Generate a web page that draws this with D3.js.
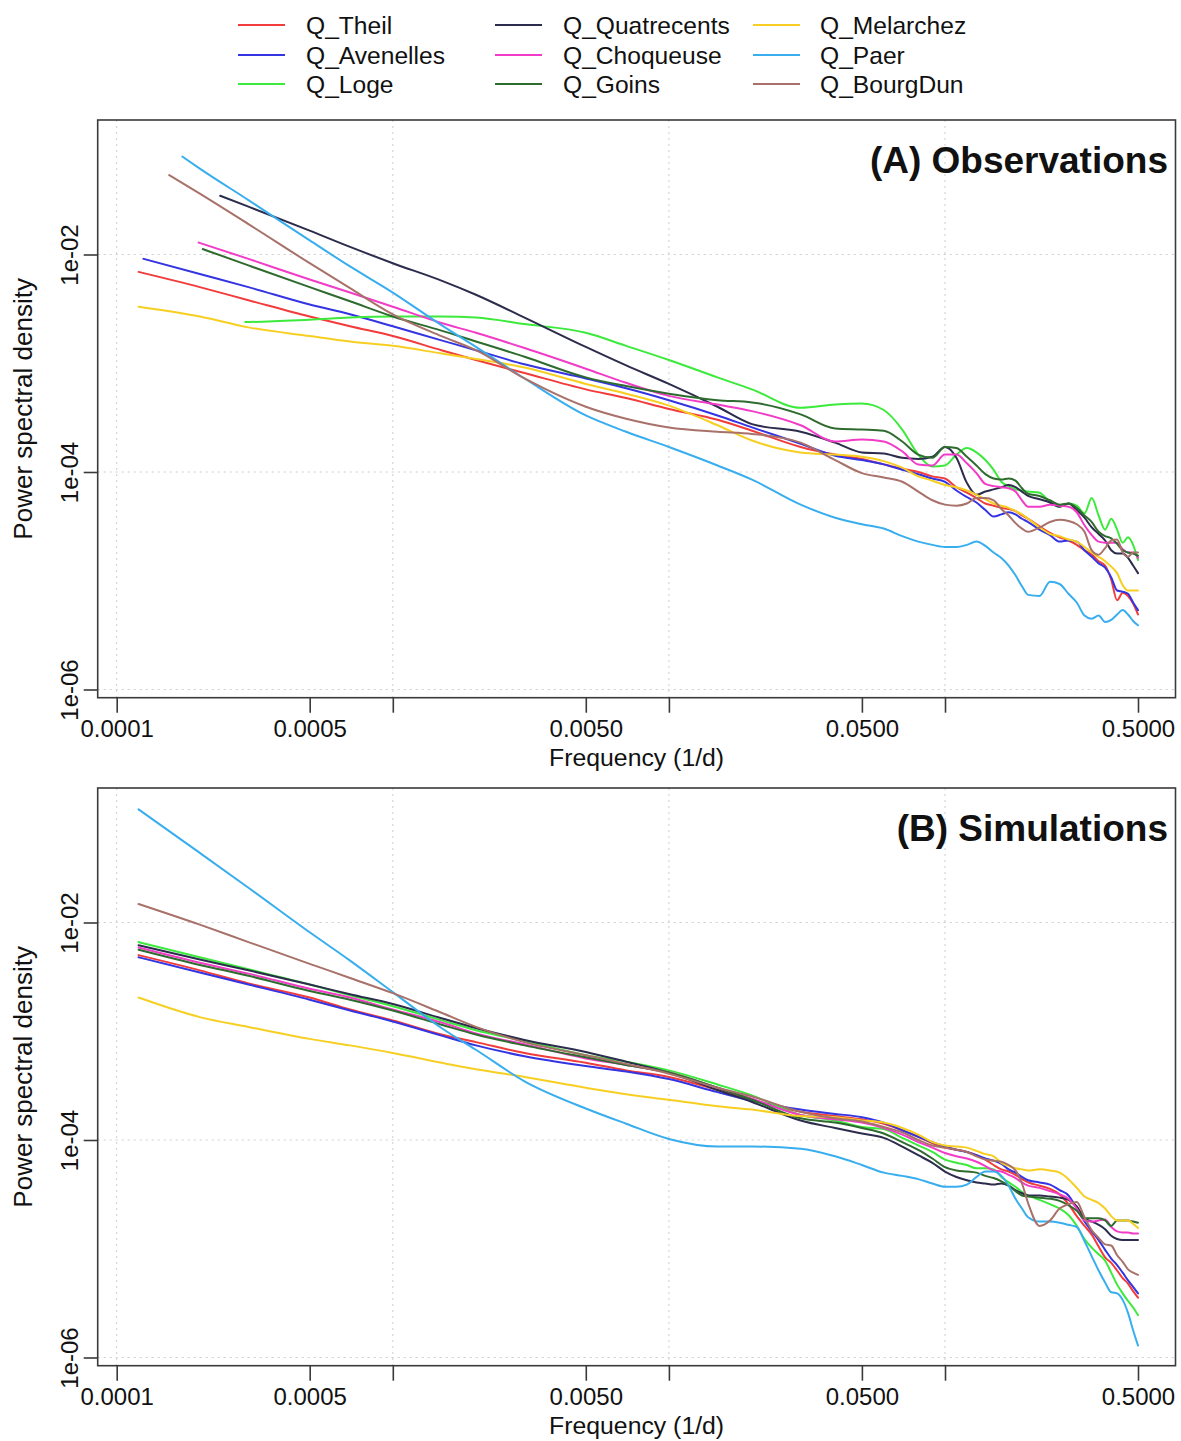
<!DOCTYPE html>
<html><head><meta charset="utf-8">
<script src="https://cdn.jsdelivr.net/npm/d3@7"></script>
<style>
body{margin:0;background:#fff}
svg{display:block}
text{font-family:"Liberation Sans",Arial,Helvetica,sans-serif;fill:#111}
</style>
</head><body>
<svg id="chart" width="1181" height="1441"></svg>
<script>
// ---------------- DATA ----------------
const seriesNames = ["Q_Theil","Q_Avenelles","Q_Loge","Q_Quatrecents","Q_Choqueuse","Q_Goins","Q_Melarchez","Q_Paer","Q_BourgDun"];
const seriesColors = ["#F23B3B","#3434E2","#3CEA3C","#2C2C4C","#F23CC8","#2E6B2E","#F7CF22","#38AEEE","#A8716A"];

// common frequency grid (1/d)
const freqGrid = [0.00012,0.0002,0.0003,0.0005,0.0007,0.001,0.0015,0.002,0.003,0.005,0.007,0.01,0.015,0.02,0.03,0.04,0.05,0.06,0.07,0.08,0.09,0.1,0.11,0.12,0.13,0.14,0.15,0.16,0.17,0.18,0.19,0.2,0.22,0.24,0.26,0.28,0.30,0.32,0.34,0.36,0.38,0.40,0.42,0.44,0.46,0.48,0.50];

// (A) observations: first point of each record, then log10(PSD) on freqGrid (null = outside record)
const obsStartFreq   = [0.00012,0.000125,0.000292,0.000237,0.000198,0.000205,0.00012,0.000173,0.000155];
const obsStartLog10  = [-2.16,-2.04,-2.62,-1.46,-1.89,-1.95,-2.48,-1.10,-1.27];

const obsTheil = [null,-2.30,-2.42,-2.57,-2.66,-2.75,-2.88,-2.97,-3.09,-3.24,-3.32,-3.42,-3.52,-3.62,-3.77,-3.84,-3.88,-3.93,-3.97,-4.00,-4.04,-4.06,-4.14,-4.19,-4.24,-4.29,-4.31,-4.33,-4.34,-4.36,-4.40,-4.43,-4.50,-4.56,-4.60,-4.63,-4.67,-4.72,-4.76,-4.82,-4.86,-4.99,-5.18,-5.11,-5.14,-5.21,-5.31];
const obsAvenelles = [null,-2.18,-2.30,-2.46,-2.55,-2.66,-2.79,-2.88,-3.01,-3.14,-3.23,-3.34,-3.48,-3.59,-3.74,-3.85,-3.89,-3.93,-3.98,-4.02,-4.06,-4.09,-4.17,-4.23,-4.28,-4.35,-4.41,-4.39,-4.37,-4.39,-4.43,-4.46,-4.53,-4.58,-4.64,-4.63,-4.64,-4.72,-4.78,-4.84,-4.88,-4.97,-5.09,-5.10,-5.12,-5.20,-5.27];
const obsLoge = [null,null,-2.62,-2.60,-2.58,-2.57,-2.57,-2.58,-2.64,-2.72,-2.84,-2.97,-3.13,-3.24,-3.41,-3.38,-3.37,-3.43,-3.61,-3.84,-3.95,-3.94,-3.84,-3.78,-3.82,-3.89,-3.98,-4.09,-4.13,-4.16,-4.17,-4.18,-4.19,-4.28,-4.32,-4.29,-4.31,-4.38,-4.24,-4.40,-4.53,-4.43,-4.53,-4.65,-4.60,-4.67,-4.81];
const obsQuatrecents = [null,null,-1.56,-1.78,-1.93,-2.08,-2.24,-2.37,-2.58,-2.85,-3.02,-3.19,-3.40,-3.56,-3.63,-3.73,-3.82,-3.83,-3.87,-3.88,-3.86,-3.77,-3.87,-4.10,-4.21,-4.18,-4.16,-4.14,-4.12,-4.14,-4.18,-4.22,-4.25,-4.28,-4.32,-4.29,-4.35,-4.42,-4.51,-4.57,-4.63,-4.72,-4.75,-4.75,-4.79,-4.86,-4.93];
const obsChoqueuse = [null,null,-2.04,-2.23,-2.35,-2.48,-2.63,-2.72,-2.86,-3.05,-3.18,-3.30,-3.38,-3.44,-3.57,-3.72,-3.70,-3.72,-3.81,-3.93,-3.94,-3.84,-3.84,-3.92,-4.01,-4.11,-4.13,-4.14,-4.15,-4.18,-4.26,-4.32,-4.32,-4.30,-4.31,-4.32,-4.37,-4.49,-4.58,-4.64,-4.65,-4.65,-4.65,-4.71,-4.74,-4.74,-4.79];
const obsGoins = [null,null,-2.10,-2.30,-2.43,-2.57,-2.70,-2.80,-2.94,-3.13,-3.21,-3.28,-3.34,-3.36,-3.47,-3.60,-3.61,-3.62,-3.72,-3.84,-3.87,-3.77,-3.78,-3.86,-3.94,-4.02,-4.06,-4.07,-4.06,-4.08,-4.15,-4.20,-4.22,-4.26,-4.30,-4.29,-4.33,-4.40,-4.46,-4.55,-4.59,-4.61,-4.66,-4.72,-4.74,-4.75,-4.77];
const obsMelarchez = [null,-2.57,-2.67,-2.75,-2.80,-2.84,-2.91,-2.96,-3.04,-3.19,-3.28,-3.39,-3.57,-3.71,-3.82,-3.84,-3.86,-3.90,-3.96,-4.04,-4.08,-4.12,-4.14,-4.17,-4.21,-4.25,-4.29,-4.31,-4.33,-4.36,-4.39,-4.43,-4.51,-4.57,-4.59,-4.62,-4.64,-4.69,-4.74,-4.78,-4.82,-4.87,-4.93,-5.04,-5.09,-5.09,-5.09];
const obsPaer = [null,-1.21,-1.50,-1.87,-2.11,-2.35,-2.65,-2.85,-3.14,-3.48,-3.63,-3.77,-3.94,-4.07,-4.30,-4.42,-4.48,-4.52,-4.59,-4.64,-4.67,-4.69,-4.69,-4.67,-4.64,-4.68,-4.74,-4.79,-4.86,-4.95,-5.05,-5.13,-5.14,-5.01,-5.03,-5.12,-5.20,-5.32,-5.35,-5.32,-5.38,-5.36,-5.31,-5.27,-5.31,-5.37,-5.41];
const obsBourgDun = [null,-1.44,-1.72,-2.08,-2.31,-2.55,-2.75,-2.88,-3.14,-3.40,-3.51,-3.59,-3.63,-3.65,-3.73,-3.89,-4.01,-4.05,-4.09,-4.18,-4.26,-4.30,-4.31,-4.29,-4.24,-4.24,-4.26,-4.34,-4.40,-4.47,-4.52,-4.55,-4.51,-4.46,-4.44,-4.45,-4.48,-4.55,-4.72,-4.76,-4.70,-4.63,-4.62,-4.74,-4.78,-4.74,-4.74];

// (B) simulations: log10(PSD) on freqGrid
const simTheil = [-2.30,-2.44,-2.56,-2.69,-2.80,-2.90,-3.03,-3.10,-3.20,-3.29,-3.36,-3.42,-3.54,-3.63,-3.74,-3.78,-3.81,-3.85,-3.91,-3.97,-4.03,-4.07,-4.09,-4.11,-4.14,-4.18,-4.23,-4.27,-4.29,-4.32,-4.36,-4.39,-4.42,-4.45,-4.50,-4.59,-4.70,-4.79,-4.87,-4.98,-5.08,-5.13,-5.20,-5.27,-5.32,-5.39,-5.45];
const simAvenelles = [-2.32,-2.46,-2.57,-2.71,-2.81,-2.91,-3.04,-3.13,-3.23,-3.32,-3.37,-3.44,-3.56,-3.64,-3.72,-3.76,-3.79,-3.84,-3.91,-3.97,-4.02,-4.06,-4.09,-4.11,-4.14,-4.17,-4.19,-4.22,-4.27,-4.30,-4.34,-4.37,-4.39,-4.41,-4.46,-4.51,-4.63,-4.75,-4.84,-4.92,-5.01,-5.09,-5.15,-5.22,-5.29,-5.35,-5.41];
const simLoge = [-2.18,-2.32,-2.43,-2.57,-2.67,-2.77,-2.90,-2.99,-3.09,-3.22,-3.28,-3.36,-3.49,-3.59,-3.77,-3.82,-3.88,-3.90,-3.98,-4.05,-4.11,-4.18,-4.21,-4.23,-4.26,-4.26,-4.27,-4.34,-4.39,-4.43,-4.48,-4.51,-4.55,-4.59,-4.63,-4.69,-4.79,-4.91,-4.99,-5.05,-5.11,-5.22,-5.33,-5.41,-5.48,-5.54,-5.61];
const simQuatrecents = [-2.21,-2.34,-2.44,-2.57,-2.66,-2.75,-2.88,-2.97,-3.08,-3.19,-3.28,-3.38,-3.54,-3.65,-3.82,-3.89,-3.94,-3.98,-4.06,-4.14,-4.21,-4.29,-4.34,-4.37,-4.39,-4.40,-4.41,-4.40,-4.42,-4.46,-4.49,-4.51,-4.51,-4.52,-4.53,-4.55,-4.61,-4.72,-4.75,-4.78,-4.82,-4.88,-4.91,-4.92,-4.92,-4.92,-4.92];
const simChoqueuse = [-2.23,-2.37,-2.47,-2.61,-2.69,-2.80,-2.92,-3.02,-3.12,-3.25,-3.31,-3.38,-3.52,-3.62,-3.77,-3.81,-3.84,-3.89,-3.95,-4.02,-4.07,-4.12,-4.15,-4.17,-4.20,-4.24,-4.28,-4.29,-4.32,-4.35,-4.39,-4.42,-4.44,-4.47,-4.50,-4.54,-4.63,-4.74,-4.75,-4.74,-4.73,-4.80,-4.84,-4.85,-4.85,-4.86,-4.86];
const simGoins = [-2.25,-2.39,-2.49,-2.63,-2.71,-2.81,-2.94,-3.03,-3.13,-3.24,-3.31,-3.38,-3.52,-3.63,-3.80,-3.84,-3.89,-3.94,-4.02,-4.09,-4.17,-4.25,-4.28,-4.29,-4.30,-4.33,-4.35,-4.38,-4.42,-4.47,-4.51,-4.52,-4.53,-4.54,-4.56,-4.60,-4.65,-4.72,-4.72,-4.72,-4.74,-4.79,-4.74,-4.74,-4.74,-4.75,-4.76];
const simMelarchez = [-2.69,-2.87,-2.96,-3.07,-3.13,-3.20,-3.29,-3.35,-3.42,-3.52,-3.58,-3.63,-3.69,-3.72,-3.78,-3.79,-3.82,-3.84,-3.89,-3.95,-4.02,-4.05,-4.06,-4.07,-4.10,-4.13,-4.15,-4.21,-4.24,-4.26,-4.27,-4.28,-4.27,-4.28,-4.30,-4.36,-4.44,-4.52,-4.55,-4.58,-4.63,-4.70,-4.74,-4.74,-4.74,-4.77,-4.81];
const simPaer = [-0.96,-1.36,-1.68,-2.09,-2.35,-2.64,-2.97,-3.17,-3.46,-3.71,-3.85,-3.99,-4.06,-4.06,-4.08,-4.15,-4.23,-4.30,-4.33,-4.36,-4.40,-4.43,-4.43,-4.41,-4.34,-4.29,-4.29,-4.33,-4.42,-4.54,-4.63,-4.71,-4.75,-4.75,-4.76,-4.78,-4.80,-4.93,-5.07,-5.20,-5.31,-5.40,-5.41,-5.47,-5.59,-5.75,-5.89];
const simBourgDun = [-1.83,-2.02,-2.18,-2.38,-2.51,-2.65,-2.83,-2.96,-3.10,-3.22,-3.30,-3.39,-3.52,-3.60,-3.74,-3.80,-3.83,-3.88,-3.93,-4.00,-4.05,-4.07,-4.09,-4.11,-4.15,-4.18,-4.19,-4.20,-4.23,-4.28,-4.40,-4.58,-4.79,-4.74,-4.63,-4.59,-4.57,-4.71,-4.83,-4.90,-4.96,-4.97,-5.06,-5.12,-5.19,-5.22,-5.24];

const xTickValues = [0.0001,0.0005,0.001,0.005,0.01,0.05,0.1,0.5];
const xTickLabels = ["0.0001","0.0005","","0.0050","","0.0500","","0.5000"];
const yTickValues = [1e-6,1e-4,1e-2];
const yTickLabels = ["1e-06","1e-04","1e-02"];
const xGridValues = [0.0001,0.001,0.01,0.1];
const yGridValues = [1e-6,1e-4,1e-2];

const obsSeries = [obsTheil,obsAvenelles,obsLoge,obsQuatrecents,obsChoqueuse,obsGoins,obsMelarchez,obsPaer,obsBourgDun];
const simSeries = [simTheil,simAvenelles,simLoge,simQuatrecents,simChoqueuse,simGoins,simMelarchez,simPaer,simBourgDun];

// ---------------- LAYOUT ----------------
const svg = d3.select("#chart");
const boxLeft = 97.7, boxRight = 1175.5;
const x = d3.scaleLog().domain([1e-4, 0.5]).range([116.7, 1138]);
const decadePx = 108.75;
const FONT = '"Liberation Sans", Arial, sans-serif';

const panels = [
  {title:"(A) Observations", mid:472, top:120, bottom:697.7, obs:true},
  {title:"(B) Simulations",  mid:1140, top:788, bottom:1365.7, obs:false}
];

panels.forEach((p, pi) => {
  const y = d3.scaleLog().domain([1e-6, 1e-2]).range([p.mid + 2*decadePx, p.mid - 2*decadePx]);
  const g = svg.append("g");

  // grid
  g.selectAll(".gx").data(xGridValues).join("line")
    .attr("x1", d => x(d)).attr("x2", d => x(d))
    .attr("y1", p.top).attr("y2", p.bottom)
    .attr("stroke", "#cdcdcd").attr("stroke-width", 1).attr("stroke-dasharray", "2,4");
  g.selectAll(".gy").data(yGridValues).join("line")
    .attr("y1", d => y(d)).attr("y2", d => y(d))
    .attr("x1", boxLeft).attr("x2", boxRight)
    .attr("stroke", "#cdcdcd").attr("stroke-width", 1).attr("stroke-dasharray", "2,4");

  // clip
  const clipId = "clip" + pi;
  svg.append("clipPath").attr("id", clipId).append("rect")
    .attr("x", boxLeft).attr("y", p.top).attr("width", boxRight - boxLeft).attr("height", p.bottom - p.top);

  const line = d3.line()
    .x(d => x(d[0])).y(d => y(d[1]))
    .curve(d3.curveMonotoneX);

  const src = p.obs ? obsSeries : simSeries;
  const lg = g.append("g").attr("clip-path", `url(#${clipId})`);
  src.forEach((vals, si) => {
    let pts = [];
    if (p.obs) pts.push([obsStartFreq[si], Math.pow(10, obsStartLog10[si])]);
    vals.forEach((v, i) => {
      if (v === null) return;
      const f = freqGrid[i];
      if (p.obs && f <= obsStartFreq[si] * 1.02) return;
      pts.push([f, Math.pow(10, v)]);
    });
    lg.append("path").datum(pts)
      .attr("d", line)
      .attr("fill", "none")
      .attr("stroke", seriesColors[si])
      .attr("stroke-width", 2)
      .attr("stroke-linejoin", "round")
      .attr("stroke-linecap", "round");
  });

  // box
  g.append("rect")
    .attr("x", boxLeft).attr("y", p.top)
    .attr("width", boxRight - boxLeft).attr("height", p.bottom - p.top)
    .attr("fill", "none").attr("stroke", "#3a3a3a").attr("stroke-width", 1.6);

  // x axis
  const xa = g.append("g").attr("transform", `translate(0,${p.bottom})`)
    .call(d3.axisBottom(x).tickValues(xTickValues)
      .tickFormat((d, i) => xTickLabels[i]).tickSize(15).tickPadding(7));
  xa.select(".domain").remove();
  xa.selectAll(".tick line").attr("stroke", "#3a3a3a").attr("stroke-width", 1.6);
  xa.selectAll(".tick text").attr("font-size", "24px").attr("fill", "#111")
    .attr("font-family", FONT);

  // y axis
  const ya = g.append("g").attr("transform", `translate(${boxLeft},0)`)
    .call(d3.axisLeft(y).tickValues(yTickValues)
      .tickFormat((d, i) => yTickLabels[i]).tickSize(14));
  ya.select(".domain").remove();
  ya.selectAll(".tick line").attr("stroke", "#3a3a3a").attr("stroke-width", 1.6);
  ya.selectAll(".tick text")
    .attr("x", 0).attr("dy", 0)
    .attr("transform", "translate(-20,0) rotate(-90)")
    .attr("text-anchor", "middle")
    .attr("font-size", "24px").attr("fill", "#111")
    .attr("font-family", FONT);

  // axis titles
  svg.append("text")
    .attr("x", (boxLeft + boxRight) / 2).attr("y", p.bottom + 68)
    .attr("text-anchor", "middle").attr("font-size", "24.8px")
    .text("Frequency (1/d)");
  svg.append("text")
    .attr("transform", `translate(32,${(p.top + p.bottom) / 2}) rotate(-90)`)
    .attr("text-anchor", "middle").attr("font-size", "26px")
    .text("Power spectral density");

  // panel title
  svg.append("text")
    .attr("x", 1168).attr("y", p.top + 53)
    .attr("text-anchor", "end").attr("font-size", "37px").attr("font-weight", "bold")
    .text(p.title);
});

// ---------------- LEGEND ----------------
const legCols = [{lx:238, tx:306},{lx:495, tx:563},{lx:753, tx:820}];
const legRows = [25, 55, 84];
const leg = svg.append("g");
seriesNames.forEach((name, i) => {
  const c = legCols[Math.floor(i / 3)], ry = legRows[i % 3];
  leg.append("line").attr("x1", c.lx).attr("x2", c.lx + 47)
    .attr("y1", ry).attr("y2", ry)
    .attr("stroke", seriesColors[i]).attr("stroke-width", 2);
  leg.append("text").attr("x", c.tx).attr("y", ry + 8.5)
    .attr("font-size", "24.6px").text(name);
});
</script>
</body></html>
